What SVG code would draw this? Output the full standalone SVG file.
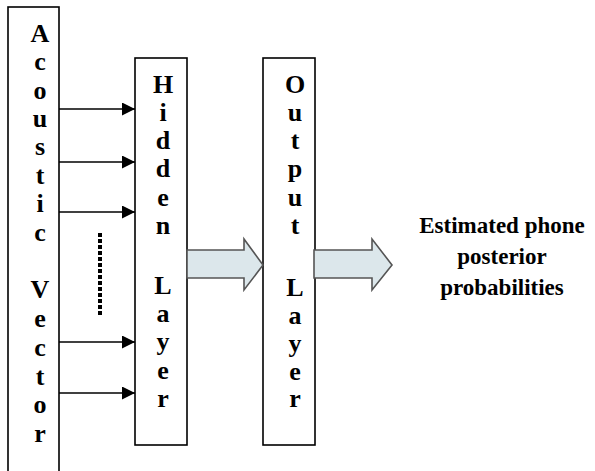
<svg xmlns="http://www.w3.org/2000/svg" width="595" height="471" viewBox="0 0 595 471">
<defs>
<style>
.box{fill:#fff;stroke:#000;stroke-width:1.6}
.v{font-family:"Liberation Serif","Times New Roman",serif;font-weight:bold;font-size:26px;fill:#000;text-anchor:middle}
.lbl{font-family:"Liberation Serif","Times New Roman",serif;font-weight:bold;font-size:23px;fill:#000;text-anchor:middle}
.ln{stroke:#000;stroke-width:1.6;fill:none}
.blk{fill:#dce7eb;stroke:#555;stroke-width:1.6}
</style>
<marker id="ah" viewBox="0 0 10 10" refX="10" refY="5" markerWidth="15" markerHeight="13" markerUnits="userSpaceOnUse" orient="auto">
<path d="M0,0 L10,5 L0,10 z" fill="#000"/>
</marker>
</defs>
<rect width="595" height="471" fill="#fff"/>
<g id="acoustic">
<rect class="box" x="8" y="7" width="51" height="480"/>
<text class="v"><tspan x="40" y="42">A</tspan><tspan x="40" y="70">c</tspan><tspan x="40" y="99">o</tspan><tspan x="40" y="127">u</tspan><tspan x="40" y="155">s</tspan><tspan x="40" y="184">t</tspan><tspan x="40" y="212">i</tspan><tspan x="40" y="241">c</tspan><tspan x="40" y="298">V</tspan><tspan x="40" y="327">e</tspan><tspan x="40" y="356">c</tspan><tspan x="40" y="385">t</tspan><tspan x="40" y="413">o</tspan><tspan x="40" y="442">r</tspan></text>
</g>
<g id="hidden">
<rect class="box" x="135" y="58" width="52" height="387"/>
<text class="v"><tspan x="163" y="93">H</tspan><tspan x="163" y="121">i</tspan><tspan x="163" y="149">d</tspan><tspan x="163" y="177">d</tspan><tspan x="163" y="206">e</tspan><tspan x="163" y="234">n</tspan><tspan x="163" y="294">L</tspan><tspan x="163" y="322">a</tspan><tspan x="163" y="350">y</tspan><tspan x="163" y="379">e</tspan><tspan x="163" y="407">r</tspan></text>
</g>
<g id="output">
<rect class="box" x="263" y="58" width="52" height="387"/>
<text class="v"><tspan x="295" y="93">O</tspan><tspan x="295" y="121">u</tspan><tspan x="295" y="149">t</tspan><tspan x="295" y="177">p</tspan><tspan x="295" y="206">u</tspan><tspan x="295" y="234">t</tspan><tspan x="295" y="296">L</tspan><tspan x="295" y="324">a</tspan><tspan x="295" y="352">y</tspan><tspan x="295" y="380">e</tspan><tspan x="295" y="407">r</tspan></text>
</g>
<g id="result">
<text class="lbl"><tspan x="502" y="233">Estimated phone</tspan><tspan x="502" y="264">posterior</tspan><tspan x="502" y="295">probabilities</tspan></text>
</g>
<g id="connectors">
<line class="ln" x1="59" y1="109" x2="135" y2="109" marker-end="url(#ah)"/>
<line class="ln" x1="59" y1="162" x2="135" y2="162" marker-end="url(#ah)"/>
<line class="ln" x1="59" y1="212" x2="135" y2="212" marker-end="url(#ah)"/>
<line class="ln" x1="59" y1="342" x2="135" y2="342" marker-end="url(#ah)"/>
<line class="ln" x1="59" y1="393" x2="135" y2="393" marker-end="url(#ah)"/>
<line x1="100" y1="233" x2="100" y2="315" stroke="#000" stroke-width="4" stroke-dasharray="4,2"/>
<path class="blk" d="M187,250 L244,250 L244,239 L263,265 L244,290 L244,278 L187,278 z"/>
<path class="blk" d="M314,250 L372,250 L372,239 L392,265 L372,290 L372,278 L314,278 z"/>
</g>
</svg>
